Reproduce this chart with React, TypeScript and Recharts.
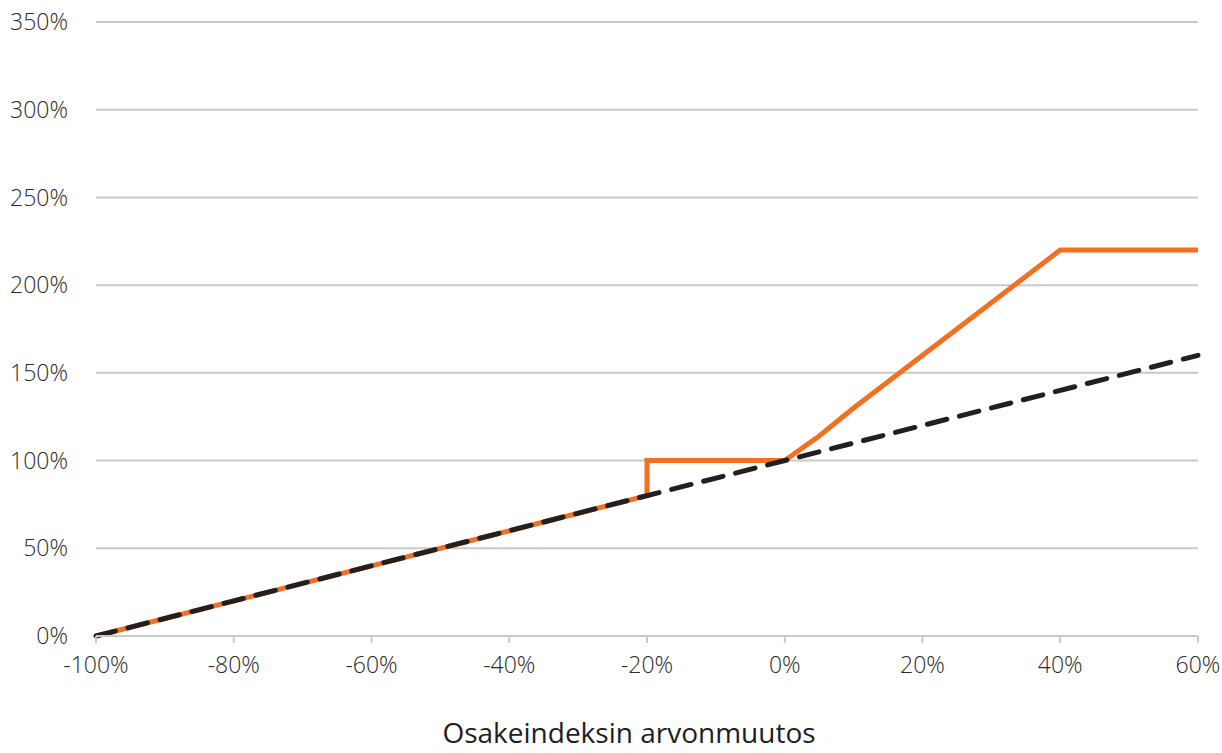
import { LineChart, Line, XAxis, YAxis, CartesianGrid } from "recharts";

const xTicks = [-100, -80, -60, -40, -20, 0, 20, 40, 60];
const yTicks = [0, 50, 100, 150, 200, 250, 300, 350];

// tuote (oranssi)
const productX = [-100, -20, -20, 0, 5, 10, 40, 60];
const productY = [0, 80, 100, 100, 114, 130, 220, 220];

// osakeindeksi (musta katkoviiva)
const indexX = [-100, 60];
const indexY = [0, 160];

const productData = productX.map((x, i) => ({ x, y: productY[i] }));
const indexData = indexX.map((x, i) => ({ x, y: indexY[i] }));

const pct = (v: number) => `${v}%`;
const tickStyle = { fontSize: 23, fill: "#2a2a2a", fontFamily: "Open Sans", fontWeight: 300 };

export default function App() {
  return (
    <div style={{ position: "absolute", left: 0, top: 0, background: "#fff" }}>
      <LineChart width={1222} height={753} margin={{ top: 22, right: 24, left: 0, bottom: 17 }}>
        <CartesianGrid vertical={false} stroke="#c9c9c9" strokeWidth={2} />
        <XAxis
          type="number"
          dataKey="x"
          domain={[-100, 60]}
          ticks={xTicks}
          tickFormatter={pct}
          allowDuplicatedCategory={false}
          stroke="#c9c9c9"
          strokeWidth={2}
          tickSize={7}
          tickMargin={14}
          tick={tickStyle}
          height={100}
          label={{
            value: "Osakeindeksin arvonmuutos",
            position: "bottom",
            offset: -13,
            dx: -18,
            style: { fontSize: 28, fill: "#1e1e1e", fontFamily: "Open Sans", fontWeight: 500 },
          }}
        />
        <YAxis
          type="number"
          domain={[0, 350]}
          ticks={yTicks}
          tickFormatter={pct}
          axisLine={false}
          tickLine={false}
          tickSize={0}
          tickMargin={28}
          tick={tickStyle}
          width={96}
        />
        <Line
          data={productData}
          dataKey="y"
          type="linear"
          stroke="#f37021"
          strokeWidth={5}
          dot={false}
          isAnimationActive={false}
        />
        <Line
          data={indexData}
          dataKey="y"
          type="linear"
          stroke="#231f20"
          strokeWidth={5}
          strokeDasharray="20 13"
          strokeLinecap="round"
          dot={false}
          isAnimationActive={false}
        />
      </LineChart>
    </div>
  );
}
